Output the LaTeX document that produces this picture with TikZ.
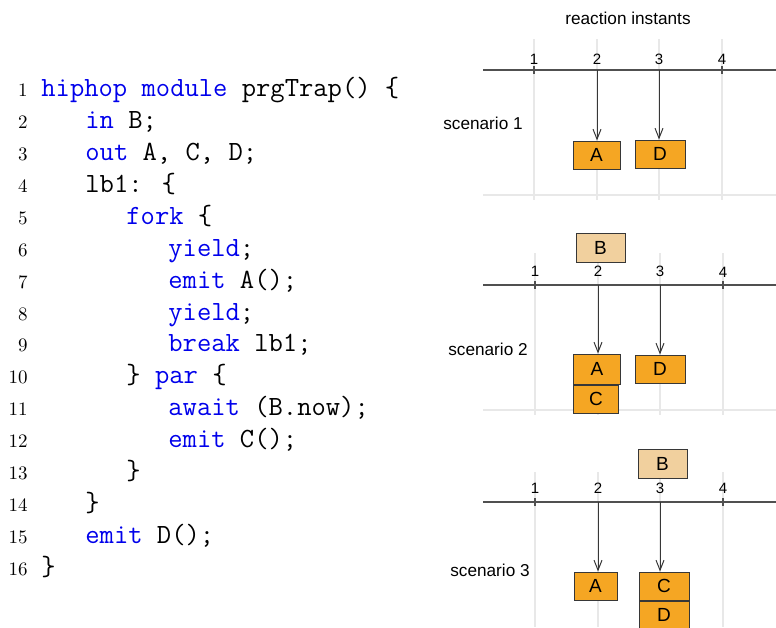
\documentclass[tikz,border=0pt]{standalone}
\usepackage{fontspec}
\newfontfamily\labelfont{Liberation Sans}
\usetikzlibrary{arrows.meta}
\newcommand{\kw}[1]{\textcolor{keyword}{#1}}
\tikzset{
  codeline/.style={anchor=base west,inner sep=0pt,font=\ttfamily\fontsize{13.9}{16}\selectfont},
  lineno/.style={anchor=base east,inner sep=0pt,font=\rmfamily\fontsize{9.5}{10}\selectfont},
  gridline/.style={draw=gridcolor,line width=0.6pt},
  axisline/.style={draw=axiscolor,line width=0.6pt},
  tickmark/.style={draw=axiscolor,line width=0.6pt},
  ticklabel/.style={inner sep=0pt,font=\labelfont\fontsize{7.5}{7.5}\selectfont},
  sclabel/.style={inner sep=0pt,font=\labelfont\fontsize{8.6}{9}\selectfont},
  signal/.style={draw=boxline,fill=emitcolor,line width=0.5pt,inner sep=0pt,
    minimum width=23.5pt,minimum height=14pt,font=\labelfont\fontsize{9.5}{9.5}\selectfont},
  insignal/.style={signal,fill=inputcolor,minimum width=24.5pt,minimum height=14.5pt},
  emitarrow/.style={draw=boxline,line width=0.5pt,-{Straight Barb[length=5pt,width=4pt]}}
}
\begin{document}
\begin{tikzpicture}[x=0.5pt,y=-0.5pt]
\definecolor{keyword}{RGB}{0,0,235}
\definecolor{gridcolor}{RGB}{232,232,232}
\definecolor{axiscolor}{RGB}{80,80,80}
\definecolor{boxline}{RGB}{55,55,55}
\definecolor{emitcolor}{RGB}{245,166,35}
\definecolor{inputcolor}{RGB}{241,208,158}
\useasboundingbox (0,0) rectangle (776,627);
\clip (0,0) rectangle (776,627);
% program text
\node[lineno] (n1) at (28,96) {1};
\node[lineno] (n2) at (28,128) {2};
\node[lineno] (n3) at (28,160) {3};
\node[lineno] (n4) at (28,192) {4};
\node[lineno] (n5) at (28,224) {5};
\node[lineno] (n6) at (28,256) {6};
\node[lineno] (n7) at (28,288) {7};
\node[lineno] (n8) at (28,320) {8};
\node[lineno] (n9) at (28,351) {9};
\node[lineno] (n10) at (28,383) {10};
\node[lineno] (n11) at (28,415) {11};
\node[lineno] (n12) at (28,447) {12};
\node[lineno] (n13) at (28,479) {13};
\node[lineno] (n14) at (28,511) {14};
\node[lineno] (n15) at (28,543) {15};
\node[lineno] (n16) at (28,575) {16};
\node[codeline] (c1) at (41,96) {\kw{hiphop module} prgTrap() \{};
\node[codeline] (c2) at (85,128) {\kw{in} B;};
\node[codeline] (c3) at (85,160) {\kw{out} A, C, D;};
\node[codeline] (c4) at (85,192) {lb1: \{};
\node[codeline] (c5) at (126,224) {\kw{fork} \{};
\node[codeline] (c6) at (168,256) {\kw{yield};};
\node[codeline] (c7) at (168,288) {\kw{emit} A();};
\node[codeline] (c8) at (168,320) {\kw{yield};};
\node[codeline] (c9) at (168,351) {\kw{break} lb1;};
\node[codeline] (c10) at (126,383) {\} \kw{par} \{};
\node[codeline] (c11) at (168,415) {\kw{await} (B.now);};
\node[codeline] (c12) at (168,447) {\kw{emit} C();};
\node[codeline] (c13) at (126,479) {\}};
\node[codeline] (c14) at (85,511) {\}};
\node[codeline] (c15) at (85,543) {\kw{emit} D();};
\node[codeline] (c16) at (41,575) {\}};
% timelines
\node[sclabel] (title) at (628,18) {reaction instants};
% scenario 1
\draw[gridline] (534,39) -- (534,200);
\draw[gridline] (597,39) -- (597,200);
\draw[gridline] (659,39) -- (659,200);
\draw[gridline] (722,39) -- (722,200);
\draw[gridline] (483,195) -- (776,195);
\draw[axisline] (483,70) -- (776,70);
\coordinate (s1t1) at (534,70);
\coordinate (s1t2) at (597,70);
\coordinate (s1t3) at (659,70);
\coordinate (s1t4) at (722,70);
\draw[tickmark] (534,66) -- (534,74);
\draw[tickmark] (722,66) -- (722,74);
\node[ticklabel] (s1n1) at (534,59) {1};
\node[ticklabel] (s1n2) at (597,59) {2};
\node[ticklabel] (s1n3) at (659,59) {3};
\node[ticklabel] (s1n4) at (722,59) {4};
\node[sclabel] (sc1) at (483,123) {scenario 1};
\node[signal] (a1) at (596.5,155) {A};
\node[signal,minimum width=25pt] (d1) at (660,154) {D};
\draw[emitarrow] (s1t2) -- (s1t2 |- a1.north);
\draw[emitarrow] (s1t3) -- (s1t3 |- d1.north);
% scenario 2
\draw[gridline] (535,253) -- (535,415);
\draw[gridline] (598,253) -- (598,415);
\draw[gridline] (660,253) -- (660,415);
\draw[gridline] (723,253) -- (723,415);
\draw[gridline] (483,410) -- (776,410);
\draw[axisline] (483,285) -- (776,285);
\coordinate (s2t1) at (535,285);
\coordinate (s2t2) at (598,285);
\coordinate (s2t3) at (660,285);
\coordinate (s2t4) at (723,285);
\draw[tickmark] (535,281) -- (535,289);
\draw[tickmark] (723,281) -- (723,289);
\node[ticklabel] (s2n1) at (535,271) {1};
\node[ticklabel] (s2n2) at (598,271) {2};
\node[ticklabel] (s2n3) at (660,271) {3};
\node[ticklabel] (s2n4) at (723,272) {4};
\node[sclabel] (sc2) at (488,349) {scenario 2};
\node[insignal] (b2) at (600.5,247.5) {B};
\node[signal,minimum height=15pt] (a2) at (597,369) {A};
\node[signal,minimum width=22.5pt,anchor=north west] (c2) at (a2.south west) {C};
\node[signal,minimum width=25pt] (d2) at (660,369) {D};
\draw[emitarrow] (s2t2) -- (s2t2 |- a2.north);
\draw[emitarrow] (s2t3) -- (s2t3 |- d2.north);
% scenario 3
\draw[gridline] (535,472) -- (535,627);
\draw[gridline] (598,472) -- (598,627);
\draw[gridline] (660,472) -- (660,627);
\draw[gridline] (723,472) -- (723,627);
\draw[axisline] (483,502) -- (776,502);
\coordinate (s3t1) at (535,502);
\coordinate (s3t2) at (598,502);
\coordinate (s3t3) at (660,502);
\coordinate (s3t4) at (723,502);
\draw[tickmark] (535,498) -- (535,506);
\draw[tickmark] (723,498) -- (723,506);
\node[ticklabel] (s3n1) at (535,488) {1};
\node[ticklabel] (s3n2) at (598,488) {2};
\node[ticklabel] (s3n3) at (660,488) {3};
\node[ticklabel] (s3n4) at (723,488) {4};
\node[sclabel] (sc3) at (490,570) {scenario 3};
\node[insignal] (b3) at (662.5,463.5) {B};
\node[signal,minimum width=21.5pt] (a3) at (595.5,586) {A};
\node[signal,minimum width=25pt] (c3) at (664,586) {C};
\node[signal,minimum width=25pt,anchor=north] (d3) at (c3.south) {D};
\draw[emitarrow] (s3t2) -- (s3t2 |- a3.north);
\draw[emitarrow] (s3t3) -- (s3t3 |- c3.north);
\end{tikzpicture}
\end{document}
